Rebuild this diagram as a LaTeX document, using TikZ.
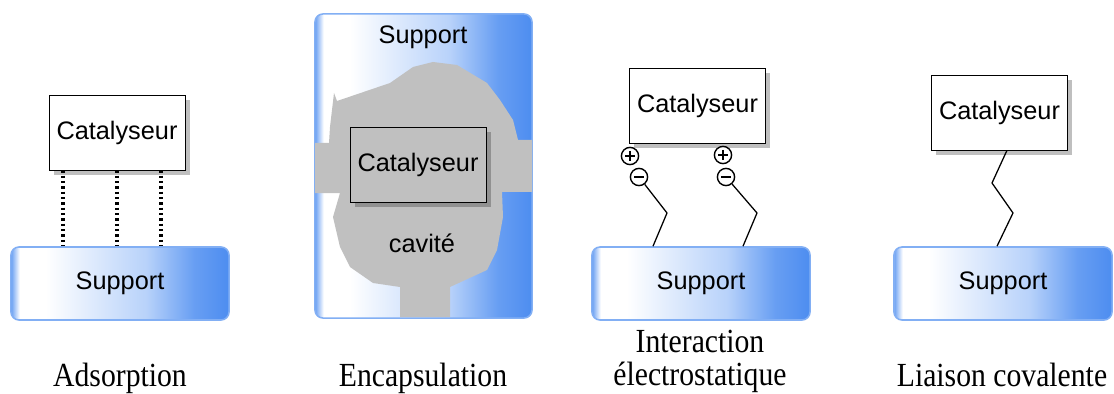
\documentclass[tikz,border=0pt]{standalone}
\usepackage{graphicx}
\usepackage{fontspec}
\setmainfont{Liberation Serif}
\setsansfont{Liberation Sans}
\usepackage{xcolor}
\usetikzlibrary{shadows,positioning}

\definecolor{suppblue}{RGB}{77,141,240}
\definecolor{supplight}{RGB}{184,210,250}
\definecolor{cavgray}{RGB}{192,192,192}
\pgfdeclarehorizontalshading{suppshade}{100bp}{color(0bp)=(suppblue); color(25bp)=(suppblue!85);
  color(27bp)=(white); color(33bp)=(white); color(56bp)=(supplight); color(67bp)=(suppblue!75!supplight);
  color(75bp)=(suppblue); color(100bp)=(suppblue)}
\newcommand{\captxt}[1]{\scalebox{0.88}[1]{#1}}

\begin{document}
\begin{tikzpicture}[x=0.025cm,y=-0.025cm,
  lbl/.style={font=\sffamily\fontsize{18}{20}\selectfont},
  cata/.style={lbl,draw,fill=white,minimum width=3.4cm,minimum height=1.875cm,inner sep=0pt,
    drop shadow={shadow xshift=3.5pt,shadow yshift=-3.5pt,fill=black!25,opacity=1}},
  supp/.style={lbl,rounded corners=0.2cm,shading=suppshade,draw=suppblue!70,line width=1.1pt,
    minimum width=5.45cm,minimum height=1.825cm,inner sep=0pt},
  capt/.style={anchor=base,font=\fontsize{24}{26}\selectfont,inner sep=0pt},
  bond/.style={line width=2.6pt,dash pattern=on 1.6pt off 2.2pt},
  link/.style={line width=0.9pt},
  charge/.style={circle,draw,fill=white,line width=1pt,minimum size=0.43cm,inner sep=0pt},
  plus/.style={charge,path picture={\draw[line width=1.6pt] (path picture bounding box.center)
    +(-5,0) -- +(5,0) +(0,-5) -- +(0,5);}},
  minus/.style={charge,path picture={\draw[line width=1.6pt] (path picture bounding box.center)
    +(-5,0) -- +(5,0);}}]
\useasboundingbox (0,0) rectangle (1114,394);

% adsorption
\node[supp] (s1) at (120,283.5) {Support};
\node[cata] (c1) at (117,132.5) {Catalyseur};
\draw[bond] ([xshift=-1.35cm]c1.south) -- ([xshift=-1.35cm]c1.south |- s1.north);
\draw[bond] (c1.south) -- (c1.south |- s1.north);
\draw[bond] ([xshift=1.1cm]c1.south) -- ([xshift=1.1cm]c1.south |- s1.north);
\node[capt] (t1) at (120,386) {\captxt{Adsorption}};

% encapsulation
\node[supp,minimum width=5.425cm,minimum height=7.6cm] (s2) at (423.5,166) {};
\fill[cavgray] (334,93) -- (337,101) -- (390,83) -- (413,67) -- (433,62) -- (457,65) -- (487,83)
  -- (500,100) -- (513,120) -- (518,140) -- (532,140) -- (532,192) -- (502,192) -- (503,217)
  -- (497,250) -- (487,270) -- (450,287) -- (450,317) -- (400,317) -- (400,287) -- (373,283)
  -- (350,267) -- (340,247) -- (333,217) -- (340,193) -- (315,193) -- (315,143) -- (329,143)
  -- (330,127) -- cycle;
\node[lbl] (s2t) at (423,37) {Support};
\node[cata,fill=cavgray,drop shadow={shadow xshift=3.5pt,shadow yshift=-3.5pt,fill=black!43,opacity=1}]
  (c2) at (418,165) {Catalyseur};
\node[lbl] (cav) at (422,243) {cavité};
\node[capt] (t2) at (423,386) {\captxt{Encapsulation}};

% interaction electrostatique
\node[supp] (s3) at (701,283.5) {Support};
\node[cata] (c3) at (697.5,105.5) {Catalyseur};
\node[plus] (p1) at (630,156) {};
\node[plus] (p2) at (723,155) {};
\node[minus] (m1) at (639,177) {};
\node[minus] (m2) at (726,177) {};
\draw[link] (m1) -- (667,213) -- (653,0 |- s3.north);
\draw[link] (m2) -- (757,213) -- (743,0 |- s3.north);
\node[capt] (t3) at (700,352) {\captxt{Interaction}};
\node[capt] (t3b) at (700,385) {\captxt{électrostatique}};

% liaison covalente
\node[supp] (s4) at (1003,283.5) {Support};
\node[cata] (c4) at (999.5,112.5) {Catalyseur};
\draw[link] (1007,0 |- c4.south) -- (992,183) -- (1013,213) -- (997,0 |- s4.north);
\node[capt] (t4) at (1002,386) {\captxt{Liaison covalente}};
\end{tikzpicture}
\end{document}
